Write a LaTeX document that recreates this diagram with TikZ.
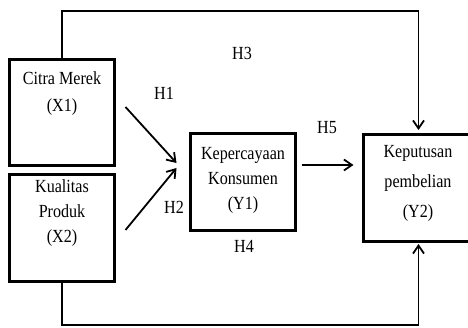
\documentclass[tikz,border=0pt]{standalone}
\usepackage{fontspec}
\setmainfont{Liberation Serif}[FakeStretch=0.87]
\usetikzlibrary{arrows.meta,calc}

\tikzset{bx/.style={draw,line width=3pt,inner sep=0pt,minimum width=105pt}}
\tikzset{tx/.style={align=center,inner sep=0pt}}
\tikzset{ar/.style={line width=1.8pt,-{Straight Barb[length=8pt,width=11pt]}}}

\begin{document}
\begin{tikzpicture}
  [x=1pt,y=1pt,
  font=\fontsize{18.5}{25}\selectfont]
  \useasboundingbox (0,0) rectangle (468,328);
  % variables
  \node[bx,minimum height=106pt] (x1) at (62,215.5) {};
  \node[bx,minimum height=107pt] (x2) at (62,100) {};
  \node[bx,minimum height=97pt] (y1) at (243,146) {};
  \node[bx,minimum width=110pt,minimum height=107pt] (y2) at (418.5,140) {};
  \node[tx,font=\fontsize{18.5}{27}\selectfont] (x1t) at (62,234.5) {Citra Merek\\(X1)};
  \node[tx] (x2t) at (62,115) {Kualitas\\Produk\\(X2)};
  \node[tx] (y1t) at (243,148) {Kepercayaan\\Konsumen\\(Y1)};
  \node[tx,font=\fontsize{18.5}{30}\selectfont] (y2t) at (418,145) {Keputusan\\pembelian\\(Y2)};
  % paths
  \coordinate (top) at (0,317);
  \coordinate (bot) at (0,3);
  \draw[ar,shorten >=3pt] (x1.north) -- (x1.north |- top) -| (y2.north);
  \draw[ar,shorten >=1pt] (x2.south) -- (x2.south |- bot) -| (y2.south);
  \draw[ar] ($(x1.east)+(9.5,5.5)$) -- ($(y1.west)+(-12.5,19)$);
  \draw[ar] ($(x2.east)+(9.5,-2)$) -- ($(y1.west)+(-12.5,14)$);
  \draw[ar] ($(y1.east)+(4.5,17)$) -- ($(y2.west)+(-8.5,23)$);
  % labels
  \node (h1) at (164,235) {H1};
  \node (h2) at (174,121) {H2};
  \node (h3) at (242,275) {H3};
  \node (h4) at (244,82) {H4};
  \node (h5) at (327,200) {H5};
\end{tikzpicture}
\end{document}
